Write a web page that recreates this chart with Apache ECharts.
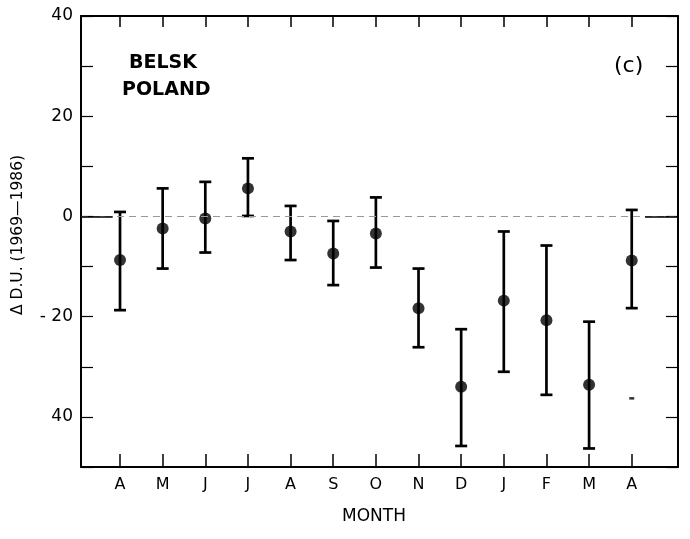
<!DOCTYPE html>
<html>
<head>
<meta charset="utf-8">
<script src="https://cdn.jsdelivr.net/npm/echarts@6/dist/echarts.min.js"></script>
<style>html,body{margin:0;padding:0;background:#fff}#c{width:690px;height:539px}</style>
</head>
<body>
<div id="c"></div>
<script>
// ---- data ----
var months = ["A","M","J","J","A","S","O","N","D","J","F","M","A"];
var monthPos = [1,2,3,4,5,6,7,8,9,10,11,12,13];
var meanVals = [-8.7,-2.4,-0.4,5.6,-3.0,-7.4,-3.4,-18.3,-34.0,-16.8,-20.7,-33.6,-8.8];
var upperVals = [0.9,5.6,6.9,11.6,2.1,-0.9,3.8,-10.4,-22.5,-3.0,-5.8,-21.0,1.3];
var lowerVals = [-18.7,-10.4,-7.2,0.1,-8.7,-13.7,-10.2,-26.1,-45.8,-31.0,-35.6,-46.3,-18.3];
var strayMark = [[13,-36.3]];
var yTickValues = [40,20,0,-20,-40];
var yTickLabels = ["40","20","0","- 20","40"];

var FONT = "DejaVu Sans, Liberation Sans, sans-serif";
var xMin = 0.085, xMax = 14.085;

var meanData = monthPos.map(function(p,i){return [p, meanVals[i]];});
var barData = monthPos.map(function(p,i){return [p, lowerVals[i], upperVals[i]];});

var chart = echarts.init(document.getElementById('c'), null, {renderer:'canvas'});
chart.setOption({
  animation:false,
  backgroundColor:'#fff',
  grid:{left:81,right:12,top:16,bottom:72},
  xAxis:[{
    type:'value', min:xMin, max:xMax, position:'bottom',
    axisLine:{show:true,onZero:false,lineStyle:{color:'#000',width:2}},
    axisTick:{show:true,inside:true,length:13,lineStyle:{color:'#000',width:1.5},customValues:monthPos},
    axisLabel:{show:true,customValues:monthPos,margin:10,fontFamily:FONT,fontSize:16,color:'#000',
      formatter:function(v){var i=monthPos.indexOf(Math.round(v));return i>=0?months[i]:'';}},
    splitLine:{show:false}
  },{
    type:'value', min:xMin, max:xMax, position:'top',
    axisLine:{show:true,onZero:false,lineStyle:{color:'#000',width:2}},
    axisTick:{show:true,inside:true,length:11,lineStyle:{color:'#000',width:1.5},customValues:monthPos},
    axisLabel:{show:false},
    splitLine:{show:false}
  }],
  yAxis:[{
    type:'value', min:-50, max:40, interval:10, position:'left',
    axisLine:{show:true,onZero:false,lineStyle:{color:'#000',width:2}},
    axisTick:{show:true,inside:true,length:12,lineStyle:{color:'#000',width:1.2}},
    axisLabel:{show:true,customValues:yTickValues,margin:8,fontFamily:FONT,fontSize:17,color:'#000',
      formatter:function(v){var i=yTickValues.indexOf(v);return i>=0?yTickLabels[i]:'';}},
    splitLine:{show:false}
  },{
    type:'value', min:-50, max:40, interval:10, position:'right',
    axisLine:{show:true,onZero:false,lineStyle:{color:'#000',width:2}},
    axisTick:{show:true,inside:true,length:12,lineStyle:{color:'#000',width:1.2}},
    axisLabel:{show:false},
    splitLine:{show:false}
  }],
  graphic:[
    {type:'text',left:129,top:54,style:{text:'BELSK',font:'bold 19px '+FONT,fill:'#000'}},
    {type:'text',left:122,top:81,style:{text:'POLAND',font:'bold 19px '+FONT,fill:'#000'}},
    {type:'text',left:614,top:55,style:{text:'(c)',font:'22px '+FONT,fill:'#000'}},
    {type:'text',x:374,y:517,style:{text:'MONTH',font:'17px '+FONT,fill:'#000',align:'center',verticalAlign:'middle'}},
    {type:'text',x:18,y:235,rotation:Math.PI/2,style:{text:'\u0394 D.U. (1969\u20141986)',font:'15.5px '+FONT,fill:'#000',align:'center',verticalAlign:'middle'}}
  ],
  series:[{
    type:'line', data:[], silent:true,
    markLine:{symbol:'none',silent:true,label:{show:false},
      data:[
        [{coord:[xMin,0],lineStyle:{color:'#999',width:1.2,type:[7,5]}},{coord:[xMax,0]}],
        [{coord:[xMin,0],lineStyle:{color:'#000',width:1.5,type:'solid'}},{coord:[0.83,0]}],
        [{coord:[13.31,0],lineStyle:{color:'#000',width:1.5,type:'solid'}},{coord:[xMax,0]}]
      ]}
  },{
    type:'custom', data:barData, silent:true,
    renderItem:function(params,api){
      var x=api.value(0);
      var lo=api.coord([x,api.value(1)]);
      var hi=api.coord([x,api.value(2)]);
      var w=6;
      var st={stroke:'#000',lineWidth:2.7};
      return {type:'group',children:[
        {type:'line',shape:{x1:lo[0],y1:lo[1],x2:hi[0],y2:hi[1]},style:st},
        {type:'line',shape:{x1:lo[0]-w,y1:lo[1],x2:lo[0]+w,y2:lo[1]},style:st},
        {type:'line',shape:{x1:hi[0]-w,y1:hi[1],x2:hi[0]+w,y2:hi[1]},style:st}
      ]};
    }
  },{
    type:'scatter', data:meanData, symbol:'circle', symbolSize:12,
    itemStyle:{color:'#000'}, silent:true
  },{
    type:'scatter', data:strayMark, symbol:'rect', symbolSize:[5,2.5],
    itemStyle:{color:'#000'}, silent:true
  }]
});
</script>
</body>
</html>
